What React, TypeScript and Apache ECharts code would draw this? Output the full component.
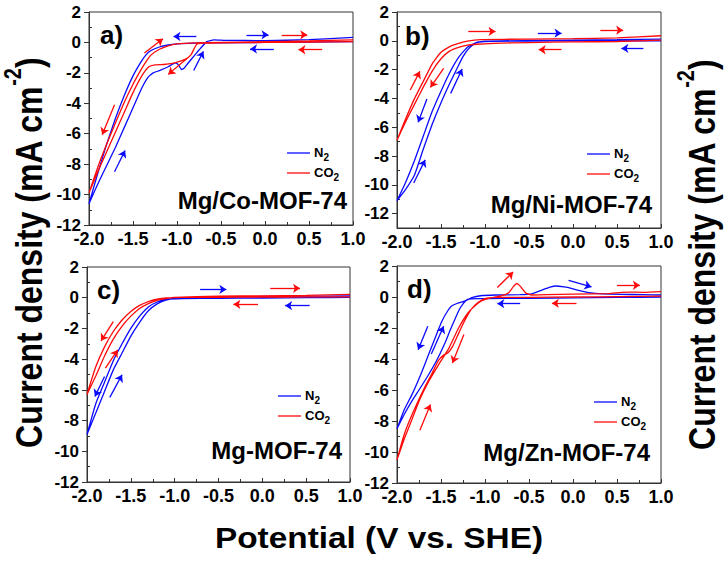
import React, { useEffect, useRef } from "react";
import * as echarts from "echarts";

// ---------- data ----------
const POTENTIAL_MIN = -2.0;
const POTENTIAL_MAX = 1.0;
const CURRENT_TICKS = [-12, -10, -8, -6, -4, -2, 0, 2];
const CURRENT_MINOR = [-13, -11, -9, -7, -5, -3, -1, 1];
const CURRENT_MIN = [-12, -13, -12, -12];
const CURRENT_MAX = 2;
const PANEL_LABELS = ["a)", "b)", "c)", "d)"];
const SAMPLE_NAMES = ["Mg/Co-MOF-74", "Mg/Ni-MOF-74", "Mg-MOF-74", "Mg/Zn-MOF-74"];
const GAS_NAMES = ["N2", "CO2"];

// Mg/Co-MOF-74
const coN2 = [
  [1.0, 0.05], [0.5, 0.02], [0.0, 0.0], [-0.5, -0.02], [-0.8, -0.05], [-1.0, -0.1], [-1.1, -0.17],
  [-1.2, -0.3], [-1.3, -0.55], [-1.35, -0.8], [-1.4, -1.2], [-1.5, -2.2], [-1.6, -3.5], [-1.7, -5.0],
  [-1.8, -6.7], [-1.9, -8.6], [-2.0, -10.6],
  [-1.9, -9.3], [-1.8, -8.1], [-1.7, -6.9], [-1.6, -5.6], [-1.5, -4.3], [-1.4, -3.0], [-1.33, -2.3],
  [-1.27, -2.0], [-1.2, -1.85], [-1.1, -1.6], [-1.02, -1.35], [-0.98, -1.5], [-0.95, -1.78],
  [-0.92, -1.7], [-0.88, -1.4], [-0.8, -0.85], [-0.72, -0.3], [-0.66, 0.05], [-0.58, 0.17],
  [-0.45, 0.14], [0.0, 0.12], [0.5, 0.18], [1.0, 0.33],
];
const coCO2 = [
  [1.0, 0.05], [0.5, 0.02], [0.0, 0.0], [-0.5, -0.02], [-0.7, -0.05], [-0.77, -0.1], [-0.8, -0.35],
  [-0.84, -0.8], [-0.9, -1.1], [-0.97, -1.25], [-1.05, -1.38], [-1.15, -1.45], [-1.25, -1.47],
  [-1.32, -1.6], [-1.4, -2.2], [-1.5, -3.3], [-1.6, -4.6], [-1.7, -5.9], [-1.8, -7.2], [-1.9, -8.5],
  [-2.0, -9.9],
  [-1.9, -8.2], [-1.8, -6.7], [-1.7, -5.3], [-1.6, -3.95], [-1.5, -2.75], [-1.42, -1.9],
  [-1.35, -1.25], [-1.3, -0.85], [-1.2, -0.45], [-1.1, -0.22], [-1.0, -0.1], [-0.8, -0.03],
  [-0.5, 0.0], [0.0, 0.05], [0.5, 0.1], [1.0, 0.17],
];

// Mg/Ni-MOF-74
const niN2 = [
  [1.0, 0.0], [0.5, 0.0], [0.0, 0.0], [-0.5, -0.02], [-0.9, -0.03], [-1.0, -0.05], [-1.1, -0.12],
  [-1.2, -0.45], [-1.3, -1.15], [-1.4, -2.2], [-1.5, -3.5], [-1.6, -4.9], [-1.7, -6.6], [-1.8, -8.3],
  [-1.9, -9.8], [-2.0, -11.1],
  [-1.9, -10.3], [-1.8, -9.3], [-1.7, -7.5], [-1.6, -5.8], [-1.5, -4.3], [-1.4, -2.95], [-1.3, -1.7],
  [-1.25, -1.1], [-1.2, -0.65], [-1.15, -0.35], [-1.1, -0.15], [-1.0, -0.03], [-0.5, 0.02],
  [0.0, 0.05], [0.5, 0.08], [1.0, 0.12],
];
const niCO2 = [
  [1.0, 0.05], [0.5, -0.05], [0.0, -0.08], [-0.5, -0.12], [-0.9, -0.18], [-1.1, -0.24], [-1.2, -0.3],
  [-1.3, -0.45], [-1.4, -0.7], [-1.5, -1.25], [-1.6, -2.1], [-1.7, -3.2], [-1.8, -4.4], [-1.9, -5.6],
  [-2.0, -6.9],
  [-1.9, -5.4], [-1.8, -4.0], [-1.7, -2.8], [-1.6, -1.6], [-1.5, -0.8], [-1.4, -0.4], [-1.3, -0.18],
  [-1.2, -0.02], [-1.05, 0.08], [-0.5, 0.12], [0.0, 0.15], [0.5, 0.2], [1.0, 0.35],
];

// Mg-MOF-74
const mgN2 = [
  [1.0, 0.02], [0.5, 0.0], [0.0, -0.02], [-0.5, -0.04], [-0.9, -0.05], [-1.1, -0.1], [-1.2, -0.28],
  [-1.3, -0.6], [-1.4, -1.2], [-1.5, -2.0], [-1.6, -3.0], [-1.7, -4.1], [-1.8, -5.5], [-1.9, -6.9],
  [-2.0, -8.9],
  [-1.9, -7.5], [-1.8, -6.1], [-1.7, -4.7], [-1.6, -3.6], [-1.5, -2.5], [-1.4, -1.6], [-1.3, -0.85],
  [-1.2, -0.4], [-1.1, -0.16], [-1.0, -0.05], [-0.5, 0.05], [0.0, 0.08], [0.5, 0.1], [1.0, 0.12],
];
const mgCO2 = [
  [1.0, 0.05], [0.5, 0.05], [0.0, 0.04], [-0.5, 0.03], [-0.9, 0.02], [-1.1, -0.02], [-1.2, -0.1],
  [-1.3, -0.25], [-1.4, -0.5], [-1.5, -0.9], [-1.6, -1.45], [-1.7, -2.2], [-1.8, -3.2], [-1.9, -4.5],
  [-2.0, -6.3],
  [-1.9, -5.1], [-1.8, -3.8], [-1.7, -2.7], [-1.6, -1.85], [-1.5, -1.2], [-1.4, -0.7], [-1.3, -0.38],
  [-1.2, -0.17], [-1.1, -0.06], [-1.0, 0.02], [-0.5, 0.1], [0.0, 0.12], [0.5, 0.15], [1.0, 0.22],
];

// Mg/Zn-MOF-74
const znN2 = [
  [1.0, 0.0], [0.5, -0.03], [0.0, -0.05], [-0.5, -0.08], [-1.0, -0.1], [-1.15, -0.12], [-1.2, -0.15],
  [-1.25, -0.45], [-1.3, -0.9], [-1.4, -2.2], [-1.45, -2.9], [-1.55, -4.1], [-1.64, -5.0],
  [-1.75, -6.0], [-1.83, -6.7], [-1.92, -7.6], [-2.0, -8.5],
  [-1.92, -7.3], [-1.83, -6.3], [-1.73, -5.0], [-1.64, -3.7], [-1.55, -2.4], [-1.49, -1.56],
  [-1.43, -0.95], [-1.38, -0.58], [-1.32, -0.42], [-1.26, -0.32], [-1.2, -0.18], [-1.15, -0.04],
  [-1.05, 0.08], [-0.88, 0.13], [-0.6, 0.15], [-0.47, 0.2], [-0.35, 0.45], [-0.25, 0.65],
  [-0.2, 0.71], [-0.1, 0.66], [-0.05, 0.6], [0.05, 0.45], [0.18, 0.28], [0.35, 0.2], [0.55, 0.17],
  [0.8, 0.15], [1.0, 0.13],
];
const znCO2 = [
  [1.0, 0.05], [0.5, 0.02], [0.0, 0.0], [-0.5, -0.02], [-0.88, -0.03], [-1.0, -0.1], [-1.08, -0.35],
  [-1.15, -0.75], [-1.2, -1.2], [-1.26, -1.85], [-1.32, -2.6], [-1.37, -3.2], [-1.42, -3.6],
  [-1.47, -3.75], [-1.53, -4.1], [-1.6, -4.9], [-1.7, -6.0], [-1.83, -7.6], [-1.92, -8.9],
  [-2.0, -10.5],
  [-1.92, -9.2], [-1.83, -7.9], [-1.74, -6.6], [-1.64, -5.45], [-1.53, -4.4], [-1.41, -3.3],
  [-1.3, -2.0], [-1.19, -1.0], [-1.1, -0.5], [-1.04, -0.26], [-0.95, -0.08], [-0.88, 0.0],
  [-0.8, 0.1], [-0.73, 0.28], [-0.68, 0.65], [-0.64, 0.87], [-0.6, 0.7], [-0.54, 0.28],
  [-0.47, 0.13], [-0.3, 0.15], [0.0, 0.18], [0.4, 0.22], [0.55, 0.3], [0.65, 0.32], [0.8, 0.3],
  [1.0, 0.35],
];

// scan-direction arrows: [fromV, fromI, toV, toI]
const coArrowsN2 = [[-0.78, 0.39, -1.04, 0.39], [-0.21, 0.5, 0.04, 0.5], [0.1, -0.43, -0.17, -0.43], [-1.71, -8.5, -1.59, -7.1], [-0.81, -1.85, -0.7, -0.59]];
const coArrowsCO2 = [[-1.37, -0.7, -1.16, 0.24], [0.19, 0.5, 0.48, 0.5], [0.65, -0.48, 0.38, -0.48], [-1.71, -4.1, -1.85, -6.07], [-0.89, -1.07, -1.1, -2.1]];
const niArrowsN2 = [[-0.4, 0.53, -0.13, 0.53], [0.8, -0.53, 0.55, -0.53], [-1.66, -4.04, -1.76, -5.66], [-1.81, -9.88, -1.68, -8.27], [-1.39, -3.65, -1.26, -1.96]];
const niArrowsCO2 = [[-1.19, 0.65, -0.88, 0.65], [0.31, 0.74, 0.57, 0.74], [-0.13, -0.62, -0.39, -0.62], [-1.85, -3.42, -1.74, -2.12], [-1.47, -1.92, -1.62, -3.23]];
const mgArrowsN2 = [[-0.71, 0.54, -0.41, 0.54], [0.54, -0.52, 0.26, -0.52], [-1.8, -5.13, -1.91, -6.43], [-1.74, -6.49, -1.6, -5.02]];
const mgArrowsCO2 = [[0.09, 0.61, 0.43, 0.61], [-0.05, -0.43, -0.33, -0.43], [-1.7, -1.56, -1.84, -2.81], [-1.79, -4.59, -1.65, -3.4]];
const znArrowsN2 = [[-0.6, -0.43, -0.86, -0.43], [-0.05, 1.08, 0.21, 0.65], [-1.65, -1.88, -1.76, -3.4], [-1.61, -3.68, -1.47, -1.88]];
const znArrowsCO2 = [[-0.86, 0.61, -0.68, 1.62], [0.5, 0.76, 0.76, 0.76], [0.04, -0.41, -0.24, -0.41], [-1.24, -2.42, -1.37, -4.26], [-1.74, -8.59, -1.62, -6.93]];

const PANEL_N2 = [coN2, niN2, mgN2, znN2];
const PANEL_CO2 = [coCO2, niCO2, mgCO2, znCO2];
const PANEL_ARROWS_N2 = [coArrowsN2, niArrowsN2, mgArrowsN2, znArrowsN2];
const PANEL_ARROWS_CO2 = [coArrowsCO2, niArrowsCO2, mgArrowsCO2, znArrowsCO2];

// ---------- layout / style ----------
const FONT = "'Liberation Sans', Arial, Helvetica, sans-serif";
const BLUE = "#0a0aff";
const RED = "#ff0a0a";
const AXIS = "#333";
const GRIDS = [
  { left: 89, top: 12, width: 264, height: 213 },
  { left: 397, top: 12, width: 264, height: 216 },
  { left: 87, top: 267, width: 263, height: 215 },
  { left: 397, top: 266, width: 264, height: 217 },
];
const TAG_POS = [[100, 35], [405, 36], [97, 290], [407, 289]];
const NAME_POS = [[347, 200], [652, 204], [342, 450], [650, 452]];
const LEGEND_POS = [[287, 153], [587, 154], [278, 396], [594, 402]];

function buildOption() {
  const grid = GRIDS.map((g) => ({
    ...g,
    show: true,
    borderColor: AXIS,
    borderWidth: 1,
    backgroundColor: "transparent",
  }));

  const xAxis = GRIDS.map((_, i) => ({
    type: "value",
    gridIndex: i,
    min: POTENTIAL_MIN,
    max: POTENTIAL_MAX,
    interval: 0.5,
    axisLine: { show: true, onZero: false, lineStyle: { color: AXIS, width: 1 } },
    axisTick: { show: true, inside: true, length: 4, lineStyle: { color: AXIS } },
    minorTick: { show: true, splitNumber: 2, length: 3, lineStyle: { color: AXIS } },
    splitLine: { show: false },
    axisLabel: {
      show: true,
      margin: 5,
      fontSize: 18,
      fontWeight: "bold",
      fontFamily: FONT,
      color: "#000",
      formatter: (v: number) => v.toFixed(1),
    },
  }));

  const yMain = GRIDS.map((_, i) => ({
    type: "value",
    gridIndex: i,
    min: CURRENT_MIN[i],
    max: CURRENT_MAX,
    position: "left",
    axisLine: { show: true, onZero: false, lineStyle: { color: AXIS, width: 1 } },
    axisTick: { show: true, inside: false, length: 5, customValues: CURRENT_TICKS, lineStyle: { color: AXIS } },
    splitLine: { show: false },
    axisLabel: {
      show: true,
      margin: 8,
      fontSize: 17,
      fontWeight: "bold",
      fontFamily: FONT,
      color: "#000",
      customValues: CURRENT_TICKS,
      formatter: (v: number) => String(v),
    },
  }));
  const yMinor = GRIDS.map((_, i) => ({
    type: "value",
    gridIndex: i,
    min: CURRENT_MIN[i],
    max: CURRENT_MAX,
    position: "left",
    axisLine: { show: false, onZero: false },
    axisTick: {
      show: true,
      inside: true,
      length: 3,
      customValues: CURRENT_MINOR.filter((v) => v > CURRENT_MIN[i] && v < CURRENT_MAX),
      lineStyle: { color: AXIS },
    },
    splitLine: { show: false },
    axisLabel: { show: false },
  }));

  const arrowMark = (arrows: number[][], color: string) => ({
    silent: true,
    symbol: ["none", "arrow"],
    symbolSize: 7,
    animation: false,
    label: { show: false },
    emphasis: { disabled: true },
    lineStyle: { color, width: 1.3, type: "solid" },
    data: arrows.map(([x1, y1, x2, y2]) => [{ coord: [x1, y1] }, { coord: [x2, y2] }]),
  });

  const series: any[] = [];
  GRIDS.forEach((_, i) => {
    series.push({
      name: GAS_NAMES[0],
      type: "line",
      xAxisIndex: i,
      yAxisIndex: i,
      data: PANEL_N2[i],
      showSymbol: false,
      symbol: "none",
      smooth: 0.15,
      lineStyle: { color: BLUE, width: 1.3 },
      itemStyle: { color: BLUE },
      silent: true,
      markLine: arrowMark(PANEL_ARROWS_N2[i], BLUE),
    });
    series.push({
      name: GAS_NAMES[1],
      type: "line",
      xAxisIndex: i,
      yAxisIndex: i,
      data: PANEL_CO2[i],
      showSymbol: false,
      symbol: "none",
      smooth: 0.15,
      lineStyle: { color: RED, width: 1.3 },
      itemStyle: { color: RED },
      silent: true,
      markLine: arrowMark(PANEL_ARROWS_CO2[i], RED),
    });
  });

  const graphic: any[] = [];
  const sub = { fontSize: 10, lineHeight: 10, fontWeight: "bold", fontFamily: FONT, fill: "#000", verticalAlign: "bottom" };
  const base = { fontSize: 13, lineHeight: 15, padding: [0, 0, 3, 0], fontWeight: "bold", fontFamily: FONT, fill: "#000", verticalAlign: "bottom" };
  GRIDS.forEach((_, i) => {
    graphic.push({
      type: "text",
      x: TAG_POS[i][0],
      y: TAG_POS[i][1],
      silent: true,
      style: { text: PANEL_LABELS[i], fontSize: 26, fontWeight: "bold", fontFamily: FONT, fill: "#000", align: "left", verticalAlign: "middle" },
    });
    graphic.push({
      type: "text",
      x: NAME_POS[i][0],
      y: NAME_POS[i][1],
      silent: true,
      style: { text: SAMPLE_NAMES[i], fontSize: 24, fontWeight: "bold", fontFamily: FONT, fill: "#000", align: "right", verticalAlign: "middle" },
    });
    const [lx, ly] = LEGEND_POS[i];
    [BLUE, RED].forEach((c, k) => {
      const yy = ly + k * 20;
      graphic.push({
        type: "line",
        silent: true,
        shape: { x1: lx, y1: yy, x2: lx + 23, y2: yy },
        style: { stroke: c, lineWidth: 1.3 },
      });
      const g = GAS_NAMES[k];
      graphic.push({
        type: "text",
        x: lx + 27,
        y: yy + 1.5,
        silent: true,
        style: {
          text: `{b|${g.slice(0, -1)}}{s|${g.slice(-1)}}`,
          align: "left",
          verticalAlign: "middle",
          fontSize: 13,
          fontWeight: "bold",
          fontFamily: FONT,
          fill: "#000",
          rich: { b: base, s: sub },
        },
      });
    });
  });

  const titleRich = {
    t: { fontSize: 32, lineHeight: 36, fontWeight: "bold", fontFamily: FONT, fill: "#000", verticalAlign: "bottom" },
    p: { fontSize: 20, lineHeight: 20, padding: [0, 0, 20, 0], fontWeight: "bold", fontFamily: FONT, fill: "#000", verticalAlign: "bottom" },
  };
  [[27, 253], [700, 255]].forEach(([x, y]) => {
    graphic.push({
      type: "text",
      x,
      y,
      rotation: Math.PI / 2,
      scaleY: 1.15,
      silent: true,
      style: {
        text: "{t|Current density (mA cm}{p|-2}{t|)}",
        align: "center",
        verticalAlign: "middle",
        fontSize: 32,
        fontWeight: "bold",
        fontFamily: FONT,
        fill: "#000",
        rich: titleRich,
      },
    });
  });
  graphic.push({
    type: "text",
    x: 379,
    y: 538,
    scaleX: 1.15,
    silent: true,
    style: {
      text: "Potential (V vs. SHE)",
      align: "center",
      verticalAlign: "middle",
      fontSize: 29,
      fontWeight: "bold",
      fontFamily: FONT,
      fill: "#000",
    },
  });

  return {
    animation: false,
    backgroundColor: "#fff",
    grid,
    xAxis,
    yAxis: [...yMain, ...yMinor],
    series,
    graphic,
  };
}

export default function App() {
  const ref = useRef<HTMLDivElement>(null);
  useEffect(() => {
    if (!ref.current) return;
    const chart = echarts.init(ref.current, undefined, { renderer: "svg" });
    chart.setOption(buildOption() as any);
    return () => chart.dispose();
  }, []);
  return (
    <div
      ref={ref}
      style={{ position: "fixed", left: 0, top: 0, width: 724, height: 561, background: "#fff" }}
    />
  );
}
